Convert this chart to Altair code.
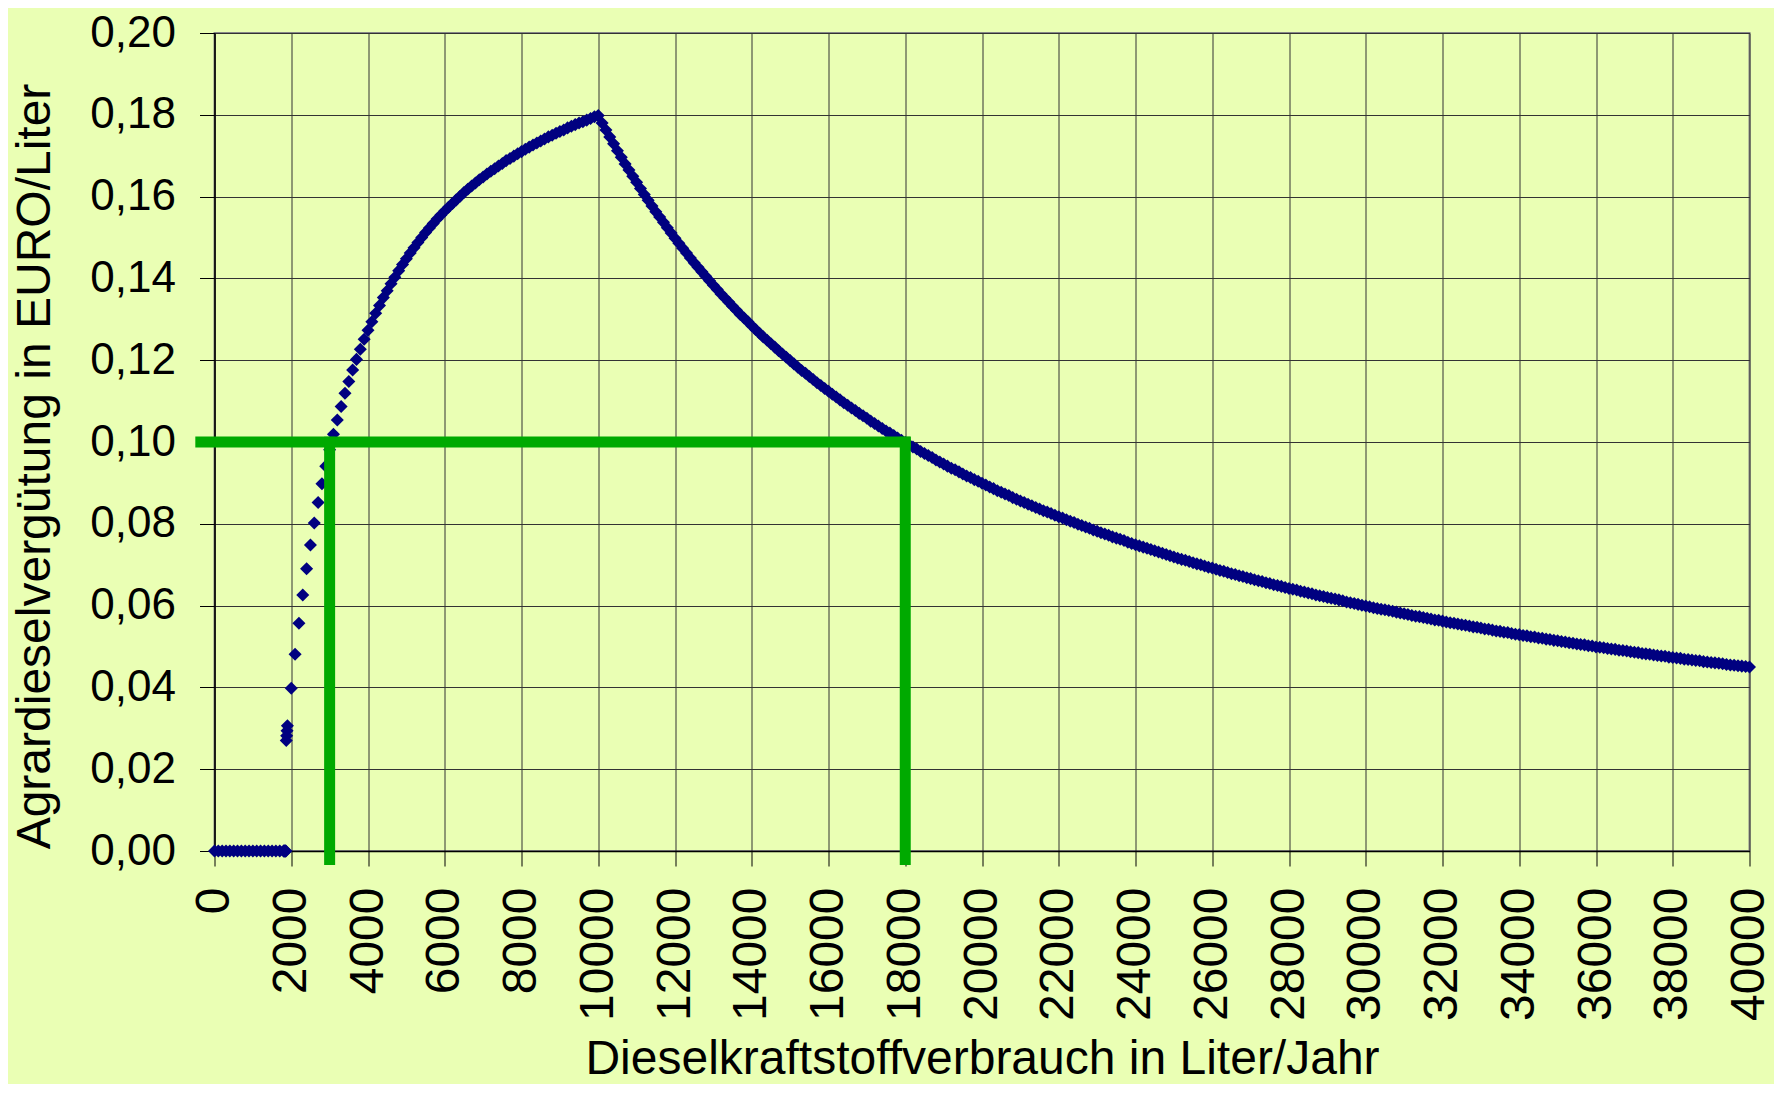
import altair as alt
import pandas as pd

# ---- data ----
# zero refund region (Liter/Jahr)
x_zero = list(range(0, 1801, 100)) + [1810, 1820, 1830, 1840, 1850, 1860]
y_zero = [0.0] * len(x_zero)

# jump just below 2000 l
x_jump = [1870, 1880, 1890, 1900]
y_jump = [0.0270, 0.0282, 0.0294, 0.0306]

# rising part 2000 .. 10000 l
x_rise = list(range(2000, 10001, 100))
y_rise = [
    0.0398, 0.0481, 0.0557, 0.0626, 0.0690, 0.0748, 0.0802, 0.0852, 0.0898, 0.0941,
    0.0981, 0.1019, 0.1054, 0.1087, 0.1119, 0.1148, 0.1176, 0.1202, 0.1227, 0.1251,
    0.1273, 0.1294, 0.1315, 0.1334, 0.1353, 0.1370, 0.1387, 0.1403, 0.1419, 0.1434,
    0.1448, 0.1462, 0.1475, 0.1488, 0.1500, 0.1512, 0.1523, 0.1534, 0.1545, 0.1555,
    0.1565, 0.1574, 0.1583, 0.1592, 0.1601, 0.1610, 0.1618, 0.1626, 0.1633, 0.1641,
    0.1648, 0.1655, 0.1662, 0.1668, 0.1675, 0.1681, 0.1688, 0.1693, 0.1699, 0.1705,
    0.1710, 0.1716, 0.1721, 0.1726, 0.1731, 0.1736, 0.1741, 0.1746, 0.1750, 0.1755,
    0.1759, 0.1763, 0.1768, 0.1772, 0.1776, 0.1780, 0.1783, 0.1787, 0.1791, 0.1795,
    0.1798,
]

# falling part 10100 .. 40000 l
x_fall = list(range(10100, 40001, 100))
y_fall = [
    0.1780, 0.1763, 0.1746, 0.1729, 0.1712, 0.1696, 0.1680, 0.1665, 0.1650, 0.1635,
    0.1620, 0.1605, 0.1591, 0.1577, 0.1563, 0.1550, 0.1537, 0.1524, 0.1511, 0.1498,
    0.1486, 0.1474, 0.1462, 0.1450, 0.1438, 0.1427, 0.1416, 0.1405, 0.1394, 0.1383,
    0.1373, 0.1362, 0.1352, 0.1342, 0.1332, 0.1322, 0.1312, 0.1303, 0.1294, 0.1284,
    0.1275, 0.1266, 0.1257, 0.1249, 0.1240, 0.1232, 0.1223, 0.1215, 0.1207, 0.1199,
    0.1191, 0.1183, 0.1175, 0.1168, 0.1160, 0.1153, 0.1145, 0.1138, 0.1131, 0.1124,
    0.1117, 0.1110, 0.1103, 0.1096, 0.1090, 0.1083, 0.1077, 0.1070, 0.1064, 0.1058,
    0.1051, 0.1045, 0.1039, 0.1033, 0.1027, 0.1022, 0.1016, 0.1010, 0.1004, 0.0999,
    0.0993, 0.0988, 0.0983, 0.0977, 0.0972, 0.0967, 0.0962, 0.0956, 0.0951, 0.0946,
    0.0941, 0.0936, 0.0932, 0.0927, 0.0922, 0.0917, 0.0913, 0.0908, 0.0904, 0.0899,
    0.0895, 0.0890, 0.0886, 0.0881, 0.0877, 0.0873, 0.0869, 0.0864, 0.0860, 0.0856,
    0.0852, 0.0848, 0.0844, 0.0840, 0.0836, 0.0832, 0.0829, 0.0825, 0.0821, 0.0817,
    0.0814, 0.0810, 0.0806, 0.0803, 0.0799, 0.0796, 0.0792, 0.0789, 0.0785, 0.0782,
    0.0778, 0.0775, 0.0772, 0.0768, 0.0765, 0.0762, 0.0759, 0.0755, 0.0752, 0.0749,
    0.0746, 0.0743, 0.0740, 0.0737, 0.0734, 0.0731, 0.0728, 0.0725, 0.0722, 0.0719,
    0.0716, 0.0713, 0.0711, 0.0708, 0.0705, 0.0702, 0.0700, 0.0697, 0.0694, 0.0692,
    0.0689, 0.0686, 0.0684, 0.0681, 0.0678, 0.0676, 0.0673, 0.0671, 0.0668, 0.0666,
    0.0663, 0.0661, 0.0659, 0.0656, 0.0654, 0.0651, 0.0649, 0.0647, 0.0644, 0.0642,
    0.0640, 0.0638, 0.0635, 0.0633, 0.0631, 0.0629, 0.0626, 0.0624, 0.0622, 0.0620,
    0.0618, 0.0616, 0.0614, 0.0612, 0.0609, 0.0607, 0.0605, 0.0603, 0.0601, 0.0599,
    0.0597, 0.0595, 0.0593, 0.0591, 0.0590, 0.0588, 0.0586, 0.0584, 0.0582, 0.0580,
    0.0578, 0.0576, 0.0574, 0.0573, 0.0571, 0.0569, 0.0567, 0.0565, 0.0564, 0.0562,
    0.0560, 0.0558, 0.0557, 0.0555, 0.0553, 0.0552, 0.0550, 0.0548, 0.0547, 0.0545,
    0.0543, 0.0542, 0.0540, 0.0538, 0.0537, 0.0535, 0.0534, 0.0532, 0.0530, 0.0529,
    0.0527, 0.0526, 0.0524, 0.0523, 0.0521, 0.0520, 0.0518, 0.0517, 0.0515, 0.0514,
    0.0512, 0.0511, 0.0509, 0.0508, 0.0506, 0.0505, 0.0504, 0.0502, 0.0501, 0.0499,
    0.0498, 0.0497, 0.0495, 0.0494, 0.0493, 0.0491, 0.0490, 0.0489, 0.0487, 0.0486,
    0.0485, 0.0483, 0.0482, 0.0481, 0.0479, 0.0478, 0.0477, 0.0476, 0.0474, 0.0473,
    0.0472, 0.0471, 0.0469, 0.0468, 0.0467, 0.0466, 0.0465, 0.0463, 0.0462, 0.0461,
    0.0460, 0.0459, 0.0458, 0.0456, 0.0455, 0.0454, 0.0453, 0.0452, 0.0451, 0.0450,
]

# green marker lines (0,10 EUR/l threshold at 3000 l and 18000 l)
h_line_x = [-500]
h_line_x2 = [18140]
h_line_y = [0.10]
v_line_x = [3000, 18000]
v_line_y = [-0.0034, -0.0034]
v_line_y2 = [0.1013, 0.1013]

x_ticks = list(range(0, 40001, 2000))
y_ticks = [0.00, 0.02, 0.04, 0.06, 0.08, 0.10, 0.12, 0.14, 0.16, 0.18, 0.20]

# ---- build chart ----
df = pd.DataFrame({
    "x": x_zero + x_jump + x_rise + x_fall,
    "y": y_zero + y_jump + y_rise + y_fall,
})
df_h = pd.DataFrame({"x": h_line_x, "x2": h_line_x2, "y": h_line_y})
df_v = pd.DataFrame({"x": v_line_x, "y": v_line_y, "y2": v_line_y2})

FONT = "Liberation Sans"

x_axis = alt.Axis(
    values=x_ticks, format="d", labelAngle=270, labelFont=FONT, labelFontSize=48,
    labelColor="black", labelPadding=21, labelFlush=False, labelOverlap=False,
    tickSize=15, tickColor="black", tickWidth=1,
    domainColor="black", domainWidth=1.5,
    grid=True, gridColor="#333333", gridWidth=1,
    title="Dieselkraftstoffverbrauch in Liter/Jahr", titleFont=FONT, titleFontSize=48,
    titleFontWeight="normal", titleColor="black", titleBaseline="alphabetic", titleY=222,
)
y_axis = alt.Axis(
    values=y_ticks, labelExpr="replace(format(datum.value, '.2f'), '.', ',')",
    labelFont=FONT, labelFontSize=44, labelColor="black", labelPadding=24,
    labelFlush=False, labelOverlap=False,
    tickSize=15, tickColor="black", tickWidth=1,
    domainColor="black", domainWidth=1.5,
    grid=True, gridColor="#333333", gridWidth=1,
    title="Agrardieselvergütung in EURO/Liter", titleFont=FONT, titleFontSize=48,
    titleFontWeight="normal", titleColor="black", titleBaseline="alphabetic",
    titleX=-165, titleY=433, titleAlign="center",
)
x_scale = alt.Scale(domain=[0, 40000], nice=False, zero=False)
y_scale = alt.Scale(domain=[0, 0.2], nice=False, zero=False)

points = alt.Chart(df).mark_point(
    shape="diamond", filled=True, size=170, color="#000080", opacity=1
).encode(
    x=alt.X("x:Q", scale=x_scale, axis=x_axis),
    y=alt.Y("y:Q", scale=y_scale, axis=y_axis),
)

h_rule = alt.Chart(df_h).mark_rule(color="#00AA00", strokeWidth=11, strokeCap="butt").encode(
    x=alt.X("x:Q", scale=x_scale, axis=x_axis),
    x2="x2:Q",
    y=alt.Y("y:Q", scale=y_scale, axis=y_axis),
)
v_rule = alt.Chart(df_v).mark_rule(color="#00AA00", strokeWidth=11, strokeCap="butt").encode(
    x=alt.X("x:Q", scale=x_scale, axis=x_axis),
    y=alt.Y("y:Q", scale=y_scale, axis=y_axis),
    y2="y2:Q",
)

chart = alt.layer(points, h_rule, v_rule).properties(
    width=1535, height=818,
    autosize=alt.AutoSizeParams(type="none"),
    padding={"left": 206.5, "top": 25, "right": 24.5, "bottom": 233},
    background="#EAFFB4",
).configure_view(
    stroke="#888888", strokeWidth=2, fill="#EAFFB4"
)

chart.save("out.html", embed_options={"renderer": "svg", "actions": False})
